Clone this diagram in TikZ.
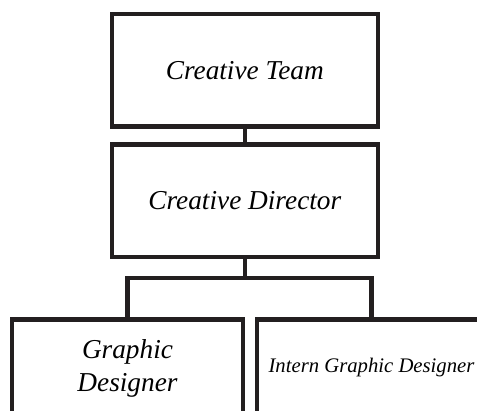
\documentclass[tikz,border=0pt]{standalone}
\usepackage{fontspec}
\setmainfont{Liberation Serif}
\usetikzlibrary{positioning}
\definecolor{linegray}{RGB}{35,31,32}

\begin{document}
\begin{tikzpicture}[x=1pt,y=1pt,line width=4.5pt,
  main box/.style={rectangle,draw=linegray,inner sep=0pt,minimum width=266pt,
    minimum height=112.5pt,align=center,font=\itshape\fontsize{27.3}{33}\selectfont}]

  \useasboundingbox (0,0) rectangle (477,411);
  \clip (0,0) rectangle (477,411);

  \node[main box] (team) at (244.8,340.6) {Creative Team};
  \node[main box] (director) at (244.8,210.3) {Creative Director};
  \node[main box, minimum width=230.6pt, minimum height=97pt] (graphic) at (127.5,43) {Graphic\\Designer};
  \node[main box, minimum width=229pt, minimum height=97pt,
    font=\itshape\fontsize{20.7}{25}\selectfont] (intern) at (371.5,43) {Intern Graphic Designer};

  \path[draw=linegray]
    (team) -- (director)
    (director.south) -- ++(0,-18.75) coordinate (split)
    (split) -| (graphic.north)
    (split) -| (intern.north);
\end{tikzpicture}
\end{document}
